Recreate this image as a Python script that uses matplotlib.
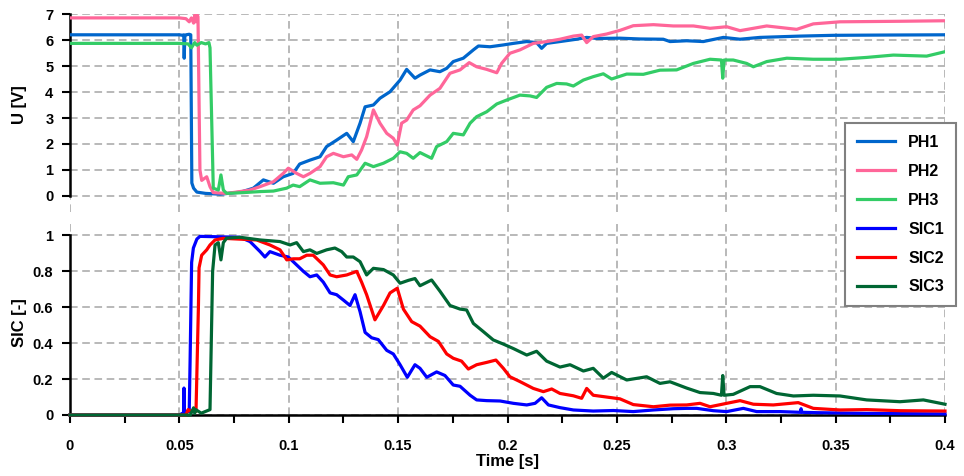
import matplotlib
matplotlib.use("Agg")
import matplotlib.pyplot as plt
from matplotlib.ticker import MultipleLocator

plt.rcParams['font.family'] = ['Liberation Sans', 'DejaVu Sans']
plt.rcParams['font.weight'] = 'bold'

# ---------------- data ----------------
ph1_t = [0, 0.05, 0.0515, 0.052, 0.0522, 0.0525, 0.053, 0.0545, 0.0552, 0.0557, 0.0565, 0.058, 0.062, 0.0686,
         0.078, 0.0838, 0.0884, 0.093, 0.0975, 0.102, 0.105, 0.1097, 0.1143, 0.1173, 0.1219, 0.1265, 0.1295,
         0.1326, 0.1349, 0.1387, 0.1417, 0.1463, 0.1509, 0.1539, 0.1577, 0.16, 0.1646, 0.1691, 0.1722, 0.1752,
         0.1798, 0.1844, 0.1867, 0.192, 0.1981, 0.2027, 0.2088, 0.2133, 0.2156, 0.2179, 0.224, 0.2316, 0.2362,
         0.2408, 0.2514, 0.2606, 0.2712, 0.2743, 0.2819, 0.2895, 0.2987, 0.3063, 0.3154, 0.3337, 0.349, 0.3718, 0.4]
ph1_v = [6.2, 6.2, 6.18, 6.2, 5.3, 6.15, 6.2, 6.22, 6.2, 0.5, 0.3, 0.15, 0.1, 0.07,
         0.15, 0.3, 0.62, 0.49, 0.74, 0.87, 1.23, 1.38, 1.51, 1.9, 2.15, 2.41, 2.09,
         2.8, 3.43, 3.5, 3.76, 4.01, 4.46, 4.87, 4.53, 4.65, 4.85, 4.78, 4.91, 5.17,
         5.3, 5.62, 5.77, 5.74, 5.81, 5.87, 5.94, 5.9, 5.68, 5.87, 5.94, 6.03, 6.1,
         6.06, 6.07, 6.04, 6.03, 5.94, 5.97, 5.94, 6.1, 6.03, 6.1, 6.15, 6.18, 6.19, 6.2]

ph2_t = [0, 0.05, 0.053, 0.0545, 0.0555, 0.0565, 0.057, 0.0575, 0.058, 0.0585, 0.0594, 0.0602, 0.0625, 0.064,
         0.0655, 0.0716, 0.0777, 0.0823, 0.0869, 0.093, 0.0975, 0.0998, 0.1036, 0.1067, 0.1097, 0.1143, 0.1173,
         0.1204, 0.125, 0.1288, 0.1311, 0.1333, 0.1356, 0.1387, 0.1417, 0.1448, 0.1478, 0.1496, 0.1516, 0.1539,
         0.1569, 0.16, 0.1646, 0.1691, 0.1737, 0.1783, 0.1825, 0.1859, 0.1905, 0.1951, 0.1973, 0.2011, 0.2057,
         0.2118, 0.2179, 0.224, 0.2301, 0.2339, 0.2362, 0.2392, 0.2453, 0.2514, 0.2575, 0.2667, 0.2758, 0.285,
         0.2926, 0.3002, 0.3063, 0.3185, 0.3322, 0.3398, 0.352, 0.3794, 0.4]
ph2_v = [6.85, 6.85, 6.82, 6.7, 6.85, 6.65, 6.95, 6.7, 6.98, 6.9, 1.0, 0.6, 0.74, 0.36,
         0.13, 0.1, 0.17, 0.23, 0.36, 0.55, 0.87, 1.07, 0.87, 0.74, 0.87, 1.13, 1.51,
         1.64, 1.51, 1.58, 1.41, 1.77, 2.28, 3.31, 2.8, 2.41, 2.22, 1.96, 2.8, 2.92,
         3.31, 3.47, 3.88, 4.14, 4.72, 4.85, 5.13, 4.97, 4.87, 4.74, 5.1, 5.49, 5.62,
         5.87, 5.94, 6.03, 6.15, 6.19, 5.9, 6.13, 6.23, 6.37, 6.55, 6.59, 6.54, 6.54,
         6.45, 6.51, 6.36, 6.54, 6.41, 6.62, 6.7, 6.72, 6.74]

ph3_t = [0, 0.05, 0.054, 0.0555, 0.057, 0.058, 0.06, 0.062, 0.0635, 0.064, 0.0655, 0.0678, 0.069, 0.0701,
         0.0716, 0.0792, 0.0869, 0.093, 0.099, 0.102, 0.105, 0.1097, 0.1143, 0.1204, 0.125, 0.1272, 0.1311,
         0.1349, 0.1387, 0.1433, 0.1478, 0.1509, 0.1539, 0.1569, 0.16, 0.1653, 0.1676, 0.1722, 0.1752, 0.1798,
         0.1829, 0.1859, 0.1905, 0.1951, 0.1996, 0.2057, 0.2103, 0.2133, 0.2179, 0.2225, 0.227, 0.2301, 0.2347,
         0.2392, 0.2438, 0.2476, 0.2545, 0.2621, 0.2697, 0.2773, 0.285, 0.2926, 0.2978, 0.2984, 0.299, 0.3032,
         0.3093, 0.3124, 0.3185, 0.3277, 0.3398, 0.352, 0.3642, 0.3764, 0.3916, 0.4]
ph3_v = [5.87, 5.87, 5.85, 5.7, 5.9, 5.8, 5.9, 5.85, 5.9, 5.7, 0.3, 0.23, 0.81, 0.23,
         0.1, 0.13, 0.17, 0.19, 0.3, 0.42, 0.36, 0.62, 0.49, 0.51, 0.42, 0.74, 0.81,
         1.26, 1.13, 1.26, 1.45, 1.7, 1.64, 1.45, 1.67, 1.45, 1.9, 2.09, 2.41, 2.35,
         2.8, 3.05, 3.24, 3.54, 3.69, 3.88, 3.85, 3.79, 4.18, 4.33, 4.31, 4.23, 4.46,
         4.59, 4.7, 4.5, 4.69, 4.68, 4.84, 4.85, 5.1, 5.26, 5.23, 4.53, 5.23, 5.23,
         5.1, 4.97, 5.17, 5.3, 5.26, 5.26, 5.33, 5.42, 5.38, 5.55]

sic1_t = [0, 0.05, 0.0515, 0.052, 0.0521, 0.0523, 0.0545, 0.0549, 0.0556, 0.0564, 0.058, 0.0594, 0.0777,
          0.0823, 0.0869, 0.0891, 0.0914, 0.096, 0.0998, 0.1036, 0.1067, 0.1097, 0.1128, 0.1158, 0.1189, 0.1219,
          0.125, 0.128, 0.1303, 0.1326, 0.1349, 0.1379, 0.1409, 0.1448, 0.1478, 0.1509, 0.1542, 0.1577, 0.16,
          0.1631, 0.1676, 0.1714, 0.1752, 0.1783, 0.1829, 0.1859, 0.1905, 0.1966, 0.2027, 0.2088, 0.2126, 0.2156,
          0.2187, 0.224, 0.2301, 0.2392, 0.2484, 0.2575, 0.2667, 0.2758, 0.2819, 0.2865, 0.2941, 0.3002, 0.3078,
          0.3139, 0.3246, 0.3338, 0.3342, 0.3346, 0.3413, 0.3642, 0.4]
sic1_v = [0, 0.0, 0.01, 0.0, 0.15, 0.02, 0.02, 0.3, 0.85, 0.93, 0.98, 0.995, 0.99,
          0.966, 0.91, 0.88, 0.91, 0.89, 0.88, 0.836, 0.8, 0.77, 0.78, 0.74, 0.68, 0.67,
          0.64, 0.61, 0.67, 0.575, 0.46, 0.43, 0.42, 0.36, 0.34, 0.28, 0.21, 0.28, 0.26,
          0.21, 0.24, 0.22, 0.167, 0.16, 0.11, 0.084, 0.08, 0.078, 0.065, 0.056, 0.065, 0.096,
          0.056, 0.041, 0.028, 0.022, 0.025, 0.019, 0.028, 0.035, 0.037, 0.037, 0.024, 0.019, 0.037,
          0.019, 0.019, 0.015, 0.035, 0.015, 0.013, 0.009, 0.006]

sic2_t = [0, 0.053, 0.054, 0.0555, 0.057, 0.0576, 0.0587, 0.059, 0.0602, 0.0625, 0.064, 0.0663, 0.0701,
          0.0853, 0.0914, 0.096, 0.0991, 0.102, 0.105, 0.1082, 0.1112, 0.1158, 0.1189, 0.1219, 0.1265, 0.1311,
          0.1333, 0.1356, 0.1394, 0.1433, 0.1463, 0.1496, 0.1524, 0.1562, 0.16, 0.1646, 0.1684, 0.1722, 0.1752,
          0.179, 0.1821, 0.1859, 0.1905, 0.1947, 0.1981, 0.2011, 0.2057, 0.2118, 0.2164, 0.2202, 0.224, 0.2301,
          0.2339, 0.2362, 0.2392, 0.2453, 0.2514, 0.2575, 0.2667, 0.2743, 0.2819, 0.288, 0.2926, 0.3002, 0.3063,
          0.3124, 0.3215, 0.3329, 0.3398, 0.352, 0.3642, 0.3794, 0.4]
sic2_v = [0, 0.0, 0.03, 0.02, 0.03, 0.02, 0.6, 0.82, 0.89, 0.92, 0.947, 0.975, 0.984,
          0.975, 0.947, 0.92, 0.864, 0.87, 0.87, 0.89, 0.89, 0.836, 0.78, 0.77, 0.78, 0.8,
          0.74, 0.67, 0.53, 0.61, 0.68, 0.706, 0.59, 0.52, 0.495, 0.436, 0.41, 0.34, 0.316,
          0.3, 0.256, 0.28, 0.293, 0.306, 0.26, 0.213, 0.186, 0.148, 0.13, 0.145, 0.12, 0.107,
          0.093, 0.148, 0.11, 0.1, 0.09, 0.058, 0.046, 0.055, 0.056, 0.065, 0.046, 0.065, 0.08,
          0.06, 0.056, 0.069, 0.037, 0.028, 0.03, 0.024, 0.022]

sic3_t = [0, 0.055, 0.0565, 0.057, 0.0575, 0.06, 0.062, 0.064, 0.0652, 0.0663, 0.0678, 0.069, 0.0701,
          0.0716, 0.0777, 0.0869, 0.096, 0.1006, 0.1036, 0.1067, 0.1097, 0.1128, 0.1173, 0.1211, 0.1242, 0.1265,
          0.1295, 0.1326, 0.1356, 0.1387, 0.1433, 0.1478, 0.1509, 0.1547, 0.1577, 0.16, 0.1653, 0.1691, 0.1737,
          0.1783, 0.1813, 0.1844, 0.1889, 0.1935, 0.1981, 0.2027, 0.2088, 0.2133, 0.2179, 0.224, 0.2286, 0.2347,
          0.2392, 0.2438, 0.2476, 0.2545, 0.2636, 0.2697, 0.2743, 0.2819, 0.288, 0.2941, 0.2978, 0.2984, 0.299,
          0.3032, 0.3109, 0.3154, 0.323, 0.3307, 0.3398, 0.352, 0.3642, 0.3794, 0.3901, 0.4]
sic3_v = [0, 0.0, 0.04, 0.01, 0.03, 0.01, 0.02, 0.03, 0.8, 0.947, 0.96, 0.864, 0.96,
          0.985, 0.99, 0.975, 0.966, 0.947, 0.96, 0.91, 0.92, 0.9, 0.92, 0.93, 0.91, 0.88,
          0.88, 0.854, 0.78, 0.817, 0.81, 0.78, 0.734, 0.75, 0.76, 0.72, 0.752, 0.69, 0.61,
          0.59, 0.585, 0.51, 0.465, 0.418, 0.395, 0.37, 0.334, 0.355, 0.3, 0.267, 0.28, 0.245,
          0.26, 0.205, 0.237, 0.195, 0.213, 0.176, 0.185, 0.15, 0.125, 0.12, 0.11, 0.22, 0.11,
          0.115, 0.158, 0.158, 0.12, 0.106, 0.11, 0.106, 0.084, 0.074, 0.084, 0.06]

top_labels = ['PH1', 'PH2', 'PH3']
bottom_labels = ['SIC1', 'SIC2', 'SIC3']
top_colors = ['#0066CC', '#FF6699', '#33CC66']
bottom_colors = ['#0000FF', '#FF0000', '#006633']
x_ticks = [0, 0.05, 0.1, 0.15, 0.2, 0.25, 0.3, 0.35, 0.4]
x_ticklabels = ['0', '0.05', '0.1', '0.15', '0.2', '0.25', '0.3', '0.35', '0.4']

# ---------------- figure ----------------
W, H = 964, 476
fig = plt.figure(figsize=(W / 100, H / 100), dpi=100)

def fpos(x0, y0, x1, y1):
    return [x0 / W, 1 - y1 / H, (x1 - x0) / W, (y1 - y0) / H]

ax1 = fig.add_axes(fpos(70, 14, 945, 211.6))
ax2 = fig.add_axes(fpos(70, 222, 945, 415))

grid_kw = dict(color='#A6A6A6', linestyle=(0, (5, 3)), linewidth=1.1)
lw = 2.3
tick_fs = 10.5

for t, v, lab, c in zip([ph1_t, ph2_t, ph3_t], [ph1_v, ph2_v, ph3_v], top_labels, top_colors):
    ax1.plot(t, v, color=c, lw=lw, label=lab, solid_joinstyle='round', zorder=3)
for t, v, lab, c in zip([sic1_t, sic2_t, sic3_t], [sic1_v, sic2_v, sic3_v], bottom_labels, bottom_colors):
    ax2.plot(t, v, color=c, lw=lw, label=lab, solid_joinstyle='round', zorder=3, clip_on=False)

# top axes
ax1.set_xlim(0, 0.4)
ax1.set_ylim(-0.6, 7)
ax1.set_yticks(range(0, 8))
ax1.set_xticks(x_ticks)
ax1.tick_params(axis='x', length=0, labelbottom=False)
ax1.tick_params(axis='y', direction='out', length=6, width=1.5, pad=6, labelsize=tick_fs)
for s in ['top', 'right', 'bottom']:
    ax1.spines[s].set_visible(False)
ax1.spines['left'].set_bounds(0, 7)
ax1.spines['left'].set_linewidth(1.8)
ax1.grid(True, **grid_kw)
ax1.set_axisbelow(True)
ax1.set_ylabel('U [V]', fontsize=12, fontweight='bold')
ax1.yaxis.set_label_coords(-0.049, 0.54)

# bottom axes
ax2.set_xlim(0, 0.4)
ax2.set_ylim(0, 1.075)
ax2.set_yticks([0, 0.2, 0.4, 0.6, 0.8, 1.0])
ax2.set_yticklabels(['0', '0.2', '0.4', '0.6', '0.8', '1'])
ax2.set_xticks(x_ticks)
ax2.set_xticklabels(x_ticklabels)
ax2.xaxis.set_minor_locator(MultipleLocator(0.025))
ax2.tick_params(axis='x', which='both', direction='out', length=6, width=1.5, pad=11, labelsize=tick_fs)
ax2.tick_params(axis='y', direction='out', length=6, width=1.5, pad=6, labelsize=tick_fs)
for s in ['top', 'right']:
    ax2.spines[s].set_visible(False)
ax2.spines['left'].set_bounds(0, 1)
ax2.spines['left'].set_linewidth(1.8)
ax2.spines['bottom'].set_linewidth(1.8)
ax2.grid(True, which='major', **grid_kw)
ax2.set_axisbelow(True)
ax2.set_ylabel('SIC [-]', fontsize=12, fontweight='bold')
ax2.yaxis.set_label_coords(-0.049, 0.477)
ax2.set_xlabel('Time [s]', fontsize=12, fontweight='bold', labelpad=1)

for a in (ax1, ax2):
    for lab in a.get_xticklabels() + a.get_yticklabels():
        lab.set_fontweight('bold')

# legend
h1, l1 = ax1.get_legend_handles_labels()
h2, l2 = ax2.get_legend_handles_labels()
leg = fig.legend(h1 + h2, l1 + l2, loc='upper left',
                 bbox_to_anchor=(845 / W, 1 - 123 / H), borderaxespad=0,
                 fancybox=False, framealpha=1, edgecolor='#808080',
                 prop={'weight': 'bold', 'size': 11.5}, handlelength=2.4,
                 labelspacing=0.87, borderpad=0.75, handletextpad=0.8)
leg.get_frame().set_linewidth(1.5)
for line in leg.get_lines():
    line.set_linewidth(2.3)

fig.savefig('out.png', dpi=100)
